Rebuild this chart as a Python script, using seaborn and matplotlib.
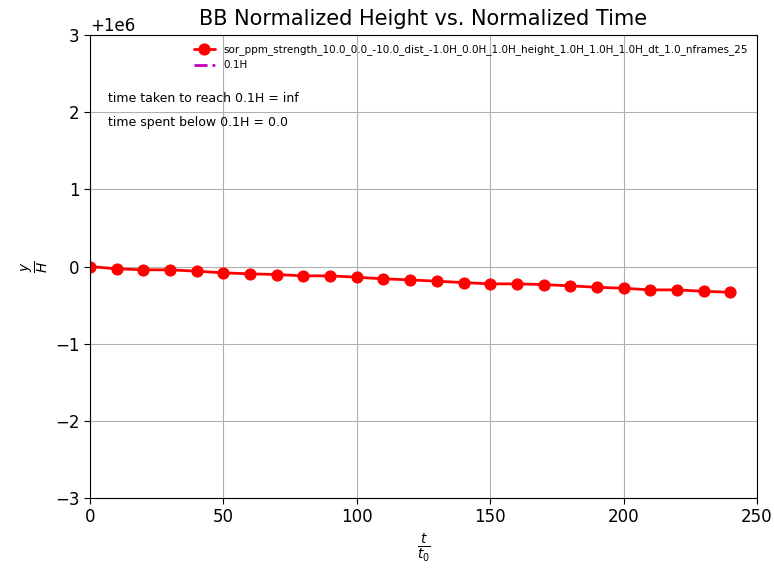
import matplotlib
matplotlib.use("Agg")
import matplotlib.pyplot as plt
import seaborn as sns
import numpy as np
import pandas as pd

t_values = [0, 10, 20, 30, 40, 50, 60, 70, 80, 90, 100, 110, 120, 130, 140, 150,
            160, 170, 180, 190, 200, 210, 220, 230, 240]
height_offset = 1e6
height_delta = [0.0, -0.030, -0.043, -0.043, -0.061, -0.082, -0.095, -0.104, -0.121,
                -0.121, -0.139, -0.160, -0.173, -0.191, -0.208, -0.225, -0.225, -0.234,
                -0.251, -0.269, -0.282, -0.303, -0.303, -0.321, -0.334]
series_label = "sor_ppm_strength_10.0_0.0_-10.0_dist_-1.0H_0.0H_1.0H_height_1.0H_1.0H_1.0H_dt_1.0_nframes_25"
threshold = 0.1
threshold_label = "0.1H"
time_to_reach = "inf"
time_below = "0.0"

sns.set_style("white")
plt.rcParams['font.family'] = ['DejaVu Sans']
plt.rcParams['text.color'] = 'black'
plt.rcParams['axes.labelcolor'] = 'black'

df = pd.DataFrame({"t": t_values, "y": [height_offset + d for d in height_delta]})

fig = plt.figure(figsize=(7.74, 5.68), dpi=100)
ax = fig.add_axes([90/774, 1-498/568, 667/774, 463/568])

sns.lineplot(data=df, x="t", y="y", ax=ax, color="red", marker="o", markersize=8,
             markeredgecolor="red", linewidth=2, label=series_label)
ax.axhline(threshold, color="m", lw=2, ls=(0, (4.7, 1.8, 1.0, 1.8)), label=threshold_label)

ax.set_xlim(0, 250)
ax.set_ylim(height_offset - 3, height_offset + 3)
ax.set_yticks([height_offset + v for v in [-3, -2, -1, 0, 1, 2, 3]])
ax.grid(True, color="#b0b0b0", lw=0.8)
for s in ax.spines.values():
    s.set_visible(True)
    s.set_color("black")
    s.set_linewidth(0.8)
ax.tick_params(axis="both", which="both", direction="out", length=4, width=0.8,
               labelsize=12, bottom=True, left=True, colors="black")
ax.yaxis.get_offset_text().set_fontsize(12)
ax.yaxis.get_offset_text().set_color("black")

ax.set_title("BB Normalized Height vs. Normalized Time", fontsize=15, pad=7.5, color="black")
ax.set_xlabel(r"$\frac{t}{t_0}$", fontsize=14)
ax.set_ylabel(r"$\frac{y}{H}$", fontsize=14)

ax.text(0.027, 0.862, f"time taken to reach {threshold_label} = {time_to_reach}",
        transform=ax.transAxes, fontsize=9, va="center")
ax.text(0.027, 0.812, f"time spent below {threshold_label} = {time_below}",
        transform=ax.transAxes, fontsize=9, va="center")

ax.legend(loc="upper right", fontsize=7.5, frameon=False)

fig.savefig("out.png", dpi=100)
